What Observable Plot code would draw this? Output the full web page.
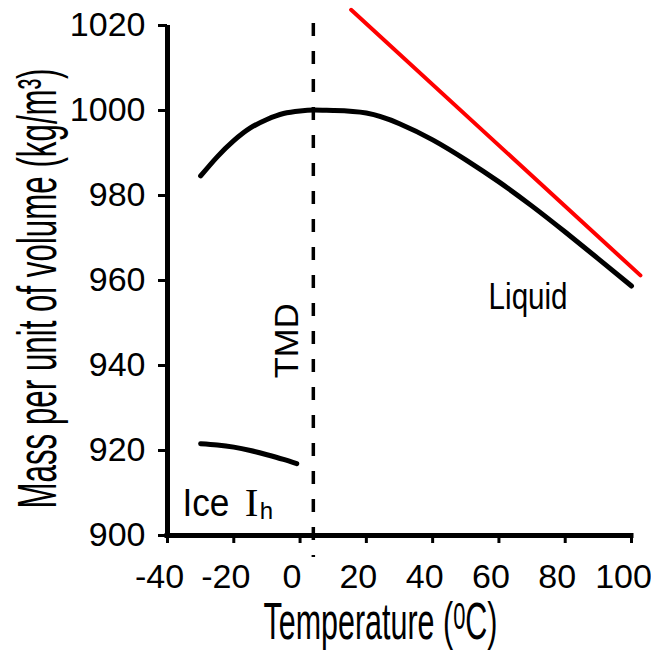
<!DOCTYPE html>
<html><head><meta charset="utf-8">
<script src="https://cdn.jsdelivr.net/npm/d3@7"></script>
<script src="https://cdn.jsdelivr.net/npm/@observablehq/plot@0.6"></script>
<style>body{margin:0;background:#fff;}</style>
</head><body><div id="chart"></div>
<script>
// ---- data ----
const xTicks = [-40, -20, 0, 20, 40, 60, 80, 100];
const yTicks = [900, 920, 940, 960, 980, 1000, 1020];

const liquidT   = [-30, -25, -20, -15, -10, -5, 0, 4, 10, 20, 30, 40, 50, 60, 70, 80, 90, 100];
const liquidRho = [984.6, 989.1, 992.9, 995.9, 997.9, 999.3, 999.9, 1000.1, 1000.0, 999.4, 996.9, 993.1, 988.4, 983.2, 977.5, 971.4, 965.1, 958.7];

const iceT   = [-30, -25, -20, -15, -10, -5, -1];
const iceRho = [921.6, 921.3, 920.8, 920.0, 919.0, 917.9, 916.9];

const redT   = [15.4, 102.7];
const redRho = [1023.7, 961.2];

const tmdT = 4;

const xTitle = "Temperature (0C)";
const yTitle = "Mass per unit of volume (kg/m³)";
const labelLiquid = "Liquid";
const labelTMD = "TMD";
const labelIce = "Ice";
const labelIceI = "I";
const labelIceSub = "h";

const liquid = liquidT.map((t, i) => ({t, rho: liquidRho[i]}));
const ice = iceT.map((t, i) => ({t, rho: iceRho[i]}));
const red = redT.map((t, i) => ({t, rho: redRho[i]}));

const font = "'Liberation Sans', Arial, Helvetica, sans-serif";

const chart = Plot.plot({
  width: 651,
  height: 658,
  marginLeft: 167,
  marginRight: 20,
  marginTop: 25,
  marginBottom: 123,
  x: {domain: [-40, 100], label: null},
  y: {domain: [900, 1020], label: null},
  style: {fontFamily: font, background: "white", color: "black", overflow: "visible"},
  marks: [
    // x ticks (no text)
    Plot.axisX({ticks: xTicks, tickSize: 8, strokeWidth: 3, fill: "none", label: null}),
    // x tick labels (shifted a bit like the reference)
    Plot.axisX({ticks: xTicks, tickSize: 8, tickPadding: 20, stroke: "none", fontSize: 34,
                tickFormat: d => String(d), dx: -8, label: null}),
    Plot.axisY({ticks: yTicks, tickSize: 9, tickPadding: 13, strokeWidth: 3, fontSize: 34,
                tickFormat: d => String(d), label: null}),
    // axis lines
    Plot.ruleX([-40], {y1: 900, y2: 1020, strokeWidth: 5}),
    Plot.ruleY([900], {x1: -40, x2: 100, strokeWidth: 5, strokeLinecap: "square"}),
    // TMD dashed line
    Plot.ruleX([tmdT], {y1: 1020.5, y2: 894.8, strokeWidth: 3.5, strokeDasharray: "13,15"}),
    // curves
    Plot.line(red, {x: "t", y: "rho", stroke: "#ff0000", strokeWidth: 4}),
    Plot.line(liquid, {x: "t", y: "rho", stroke: "black", strokeWidth: 5, curve: "natural"}),
    Plot.line(ice, {x: "t", y: "rho", stroke: "black", strokeWidth: 5, curve: "natural"}),
    // annotations
    Plot.text([labelLiquid], {x: 68.8, y: 953.4, textAnchor: "middle", lineAnchor: "bottom", fontSize: 36}),
    Plot.text([labelTMD], {x: -0.5, y: 945.8, rotate: -90, textAnchor: "middle", lineAnchor: "bottom", fontSize: 33}),
    Plot.text([labelIce], {x: -35.5, y: 904.7, textAnchor: "start", lineAnchor: "bottom", fontSize: 38}),
    Plot.text([labelIceI], {x: -16.7, y: 904.7, textAnchor: "start", lineAnchor: "bottom",
                fontSize: 41, fontFamily: "'Liberation Serif', 'Times New Roman', serif"}),
    Plot.text([labelIceSub], {x: -12.2, y: 903.8, textAnchor: "start", lineAnchor: "bottom", fontSize: 24}),
    // axis titles
    Plot.text([xTitle], {frameAnchor: "bottom", dx: -19, dy: 103, textAnchor: "middle",
                lineAnchor: "bottom", fontSize: 52}),
    Plot.text([yTitle], {frameAnchor: "left", dx: -112, dy: 8, rotate: -90, textAnchor: "middle",
                lineAnchor: "bottom", fontSize: 55})
  ]
});

document.getElementById("chart").appendChild(chart);

const svg = d3.select(chart);
function findText(str) {
  return svg.selectAll("text").filter(function () { return this.textContent === str; });
}
function fit(sel, len) {
  sel.attr("textLength", len).attr("lengthAdjust", "spacingAndGlyphs");
}
// x-title with raised "0"
const xt = findText(xTitle);
xt.text(null);
xt.append("tspan").text("Temperature (");
xt.append("tspan").attr("dy", -10).attr("font-size", "0.72em").text("0");
xt.append("tspan").attr("dy", 10).text("C)");
fit(xt, 234);
fit(findText(yTitle), 440);
fit(findText(labelLiquid), 79);
fit(findText(labelTMD), 75);
fit(findText(labelIce), 47);
</script>
</body></html>
